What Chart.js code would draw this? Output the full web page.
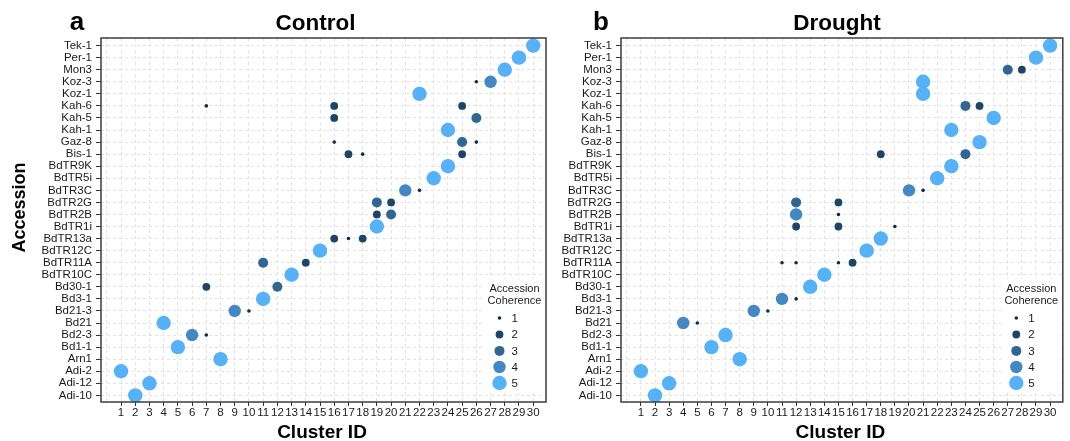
<!DOCTYPE html>
<html>
<head>
<meta charset="utf-8">
<script src="https://cdn.jsdelivr.net/npm/chart.js@4.4.0/dist/chart.umd.min.js"></script>
<style>
html,body{margin:0;padding:0;background:#fff;}
#wrap{position:relative;width:1070px;height:441px;overflow:hidden;background:#fff;}
canvas{position:absolute;top:0;}
</style>
</head>
<body>
<div id="wrap">
<canvas id="c1" width="560" height="441" style="left:0;width:560px;height:441px"></canvas>
<canvas id="c2" width="510" height="441" style="left:560px;width:510px;height:441px"></canvas>
</div>
<script>
// ---------------- DATA ----------------
const accessions = ["Tek-1","Per-1","Mon3","Koz-3","Koz-1","Kah-6","Kah-5","Kah-1","Gaz-8","Bis-1",
  "BdTR9K","BdTR5i","BdTR3C","BdTR2G","BdTR2B","BdTR1i","BdTR13a","BdTR12C","BdTR11A","BdTR10C",
  "Bd30-1","Bd3-1","Bd21-3","Bd21","Bd2-3","Bd1-1","Arn1","Adi-2","Adi-12","Adi-10"];

const clusterTicks = ["1","2","3","4","5","6","7","8","9","10","11","12","13","14","15",
  "16","17","18","19","20","21","22","23","24","25","26","27","28","29","30"];

const coherenceLevels = [1, 2, 3, 4, 5];

// [accession, cluster ID, accession coherence]
const controlPoints = [
  ["Tek-1",30,5],["Per-1",29,5],["Mon3",28,5],
  ["Koz-3",26,1],["Koz-3",27,4],["Koz-1",22,5],
  ["Kah-6",7,1],["Kah-6",16,2],["Kah-6",25,2],
  ["Kah-5",16,2],["Kah-5",26,3],["Kah-1",24,5],
  ["Gaz-8",16,1],["Gaz-8",25,3],["Gaz-8",26,1],
  ["Bis-1",17,2],["Bis-1",18,1],["Bis-1",25,2],
  ["BdTR9K",24,5],["BdTR5i",23,5],
  ["BdTR3C",21,4],["BdTR3C",22,1],
  ["BdTR2G",19,3],["BdTR2G",20,2],
  ["BdTR2B",19,2],["BdTR2B",20,3],
  ["BdTR1i",19,5],
  ["BdTR13a",16,2],["BdTR13a",17,1],["BdTR13a",18,2],
  ["BdTR12C",15,5],
  ["BdTR11A",11,3],["BdTR11A",14,2],
  ["BdTR10C",13,5],
  ["Bd30-1",7,2],["Bd30-1",12,3],
  ["Bd3-1",11,5],
  ["Bd21-3",9,4],["Bd21-3",10,1],
  ["Bd21",4,5],
  ["Bd2-3",6,4],["Bd2-3",7,1],
  ["Bd1-1",5,5],["Arn1",8,5],["Adi-2",1,5],["Adi-12",3,5],["Adi-10",2,5]
];

const droughtPoints = [
  ["Tek-1",30,5],["Per-1",29,5],
  ["Mon3",27,3],["Mon3",28,2],
  ["Koz-3",21,5],["Koz-1",21,5],
  ["Kah-6",24,3],["Kah-6",25,2],
  ["Kah-5",26,5],["Kah-1",23,5],["Gaz-8",25,5],
  ["Bis-1",18,2],["Bis-1",24,3],
  ["BdTR9K",23,5],["BdTR5i",22,5],
  ["BdTR3C",20,4],["BdTR3C",21,1],
  ["BdTR2G",12,3],["BdTR2G",15,2],
  ["BdTR2B",12,4],["BdTR2B",15,1],
  ["BdTR1i",12,2],["BdTR1i",15,2],["BdTR1i",19,1],
  ["BdTR13a",18,5],["BdTR12C",17,5],
  ["BdTR11A",11,1],["BdTR11A",12,1],["BdTR11A",15,1],["BdTR11A",16,2],
  ["BdTR10C",14,5],["Bd30-1",13,5],
  ["Bd3-1",11,4],["Bd3-1",12,1],
  ["Bd21-3",9,4],["Bd21-3",10,1],
  ["Bd21",4,4],["Bd21",5,1],
  ["Bd2-3",7,5],["Bd1-1",6,5],["Arn1",8,5],["Adi-2",1,5],["Adi-12",3,5],["Adi-10",2,5]
];

// ---------------- STYLE ----------------
const RADII = {1:1.8, 2:3.9, 3:5.0, 4:6.2, 5:7.2};
const COLORS = {1:'#132B43', 2:'#1F4566', 3:'#30668F', 4:'#4387C3', 5:'#56B1F7'};
const FONT = "'Liberation Sans', Arial, Helvetica, sans-serif";
const TICK_COLOR = '#1a1a1a';

function decorPlugin(o) {
  return {
    id: 'decor',
    afterDraw(chart) {
      const {ctx, chartArea: a} = chart;
      ctx.save();
      // legend
      const dotX = a.right - 46.5;
      ctx.fillStyle = '#fff';
      ctx.fillRect(dotX - 15, 279, a.right - 1.5 - (dotX - 15), 114);
      ctx.fillStyle = '#1a1a1a';
      ctx.font = '11px ' + FONT;
      ctx.textAlign = 'center';
      ctx.textBaseline = 'alphabetic';
      ctx.fillText('Accession', dotX + 15, 292);
      ctx.fillText('Coherence', dotX + 15, 304);
      const ys = [318, 334.5, 350.9, 367, 383];
      coherenceLevels.forEach((lv, i) => {
        ctx.beginPath();
        ctx.arc(dotX, ys[i], RADII[lv], 0, Math.PI * 2);
        ctx.fillStyle = COLORS[lv];
        ctx.fill();
        ctx.fillStyle = '#1a1a1a';
        ctx.textAlign = 'left';
        ctx.textBaseline = 'middle';
        ctx.font = '11.5px ' + FONT;
        ctx.fillText(String(lv), dotX + 12, ys[i] + 0.5);
      });
      // plot border
      ctx.strokeStyle = '#3d3d3d';
      ctx.lineWidth = 1.5;
      ctx.strokeRect(a.left, a.top, a.right - a.left, a.bottom - a.top);
      // panel letter & title
      ctx.fillStyle = '#000';
      ctx.textAlign = 'center';
      ctx.textBaseline = 'alphabetic';
      ctx.font = 'bold 26px ' + FONT;
      ctx.fillText(o.letter, o.letterX, 30);
      ctx.font = 'bold 22.5px ' + FONT;
      ctx.fillText(o.title, (a.left + a.right) / 2 + o.titleDx, 30);
      // x-axis title
      ctx.font = 'bold 19px ' + FONT;
      ctx.fillText('Cluster ID', (a.left + a.right) / 2 - 1.5, 437.5);
      // y-axis title
      if (o.yTitle) {
        ctx.translate(20, 207.5);
        ctx.rotate(-Math.PI / 2);
        ctx.font = 'bold 18px ' + FONT;
        ctx.textBaseline = 'middle';
        ctx.fillText(o.yTitle, 0, 0);
      }
      ctx.restore();
    }
  };
}

function makeChart(id, points, o) {
  const data = points.map(p => ({x: p[1], y: accessions.indexOf(p[0]), c: p[2]}));
  const gridCommon = {
    color: '#e2e2e2', lineWidth: 1, borderDash: [3, 3],
    tickColor: '#333', tickWidth: 1, tickBorderDash: []
  };
  return new Chart(document.getElementById(id), {
    type: 'scatter',
    data: {
      datasets: [{
        data,
        pointRadius: c => RADII[c.raw.c],
        pointHoverRadius: c => RADII[c.raw.c],
        pointBackgroundColor: c => COLORS[c.raw.c],
        pointBorderWidth: 0,
        pointBorderColor: 'rgba(0,0,0,0)'
      }]
    },
    options: {
      responsive: false,
      animation: false,
      events: [],
      layout: {padding: {left: 0, right: o.padRight, top: 38, bottom: 0}},
      plugins: {legend: {display: false}, tooltip: {enabled: false}},
      scales: {
        x: {
          type: 'linear', min: -0.41, max: 30.9,
          afterBuildTicks: s => { s.ticks = [0].concat(clusterTicks.map(Number)).map(v => ({value: v})); },
          afterFit: s => { s.height = 39; },
          ticks: {
            callback: (v, i) => i === 0 ? '' : clusterTicks[i - 1],
            font: {family: FONT, size: 11.5}, color: TICK_COLOR,
            padding: 0, maxRotation: 0, minRotation: 0, autoSkip: false
          },
          grid: Object.assign({}, gridCommon, {
            tickLength: 4,
            tickColor: c => (c.tick && c.tick.value === 0) ? 'rgba(0,0,0,0)' : '#333'
          }),
          border: {display: false, dash: [3, 3]}
        },
        y: {
          type: 'linear', reverse: true, min: -0.63, max: 29.55,
          afterBuildTicks: s => { s.ticks = accessions.map((_, i) => ({value: i})); },
          afterFit: s => { s.width = o.yWidth; },
          ticks: {
            callback: (v, i) => accessions[i],
            font: {family: FONT, size: 11.5}, color: TICK_COLOR,
            padding: 4, autoSkip: false
          },
          grid: Object.assign({}, gridCommon, {tickLength: 5}),
          border: {display: false, dash: [3, 3]}
        }
      }
    },
    plugins: [decorPlugin(o)]
  });
}

makeChart('c1', controlPoints, {letter: 'a', letterX: 77, title: 'Control', titleDx: -8, yTitle: 'Accession', yWidth: 101, padRight: 14});
makeChart('c2', droughtPoints, {letter: 'b', letterX: 41, title: 'Drought', titleDx: -5, yTitle: null, yWidth: 61, padRight: 4});
</script>
</body>
</html>
